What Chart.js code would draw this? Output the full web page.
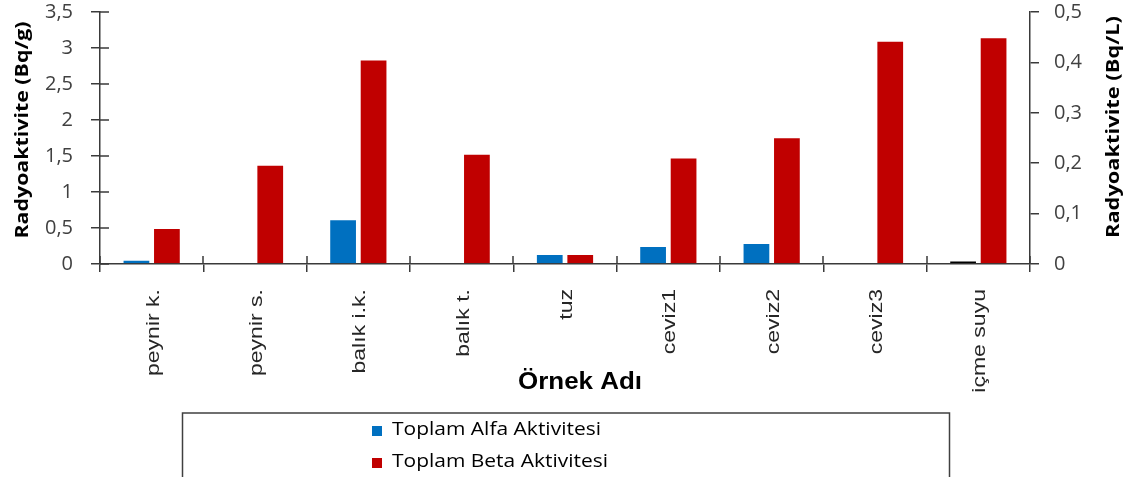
<!DOCTYPE html>
<html><head><meta charset="utf-8">
<script src="https://cdn.jsdelivr.net/npm/chart.js@4"></script>
<style>html,body{margin:0;padding:0;background:#fff;overflow:hidden}canvas{display:block}</style>
</head><body>
<canvas id="c" width="1136" height="477"></canvas>
<script>
const categories = ['peynir k.', 'peynir s.', 'balık i.k.', 'balık t.', 'tuz', 'ceviz1', 'ceviz2', 'ceviz3', 'içme suyu'];
const alfaBqg = [0.06, 0, 0.62, 0, 0.14, 0.25, 0.29, 0, null];
const betaBqg = [0.50, 1.38, 2.84, 1.53, 0.14, 1.48, 1.76, 3.10, null];
const alfaBqL = [null, null, null, null, null, null, null, null, 0.007];
const betaBqL = [null, null, null, null, null, null, null, null, 0.45];
const leftTicks = [0, 0.5, 1, 1.5, 2, 2.5, 3, 3.5];
const rightTicks = [0, 0.1, 0.2, 0.3, 0.4, 0.5];
const seriesNames = ['Toplam Alfa Aktivitesi', 'Toplam Beta Aktivitesi'];
const leftTitle = 'Radyoaktivite (Bq/g)';
const rightTitle = 'Radyoaktivite (Bq/L)';
const xTitle = 'Örnek Adı';

const BLUE = '#0070C0', RED = '#C00000', BLACK = '#000000';
const AXIS = '#3a3a3a';
const fmt = v => String(v).replace('.', ',');

function drawText(ctx, text, cx, cy, angle, font, opts) {
  ctx.save();
  ctx.font = font;
  const w = ctx.measureText(text).width;
  const sx = opts.len ? opts.len / w : (opts.sx || 1);
  ctx.translate(cx, cy);
  ctx.rotate(angle);
  ctx.scale(sx, 1);
  ctx.fillStyle = opts.color || '#000';
  ctx.textAlign = opts.align || 'center';
  ctx.textBaseline = 'middle';
  ctx.fillText(text, 0, 0);
  ctx.restore();
}

const decor = {
  id: 'decor',
  afterDraw(chart) {
    const ctx = chart.ctx;
    const x = chart.scales.x, y = chart.scales.y;
    ctx.save();
    ctx.strokeStyle = AXIS;
    ctx.lineWidth = 1.5;
    ctx.beginPath();
    for (let i = 0; i <= categories.length; i++) {
      const px = Math.round(x.getPixelForValue(i - 0.5));
      ctx.moveTo(px, x.top); ctx.lineTo(px, x.top - 8);
    }
    y.ticks.forEach(t => {
      const py = Math.round(y.getPixelForValue(t.value));
      ctx.moveTo(y.right, py); ctx.lineTo(y.right + 9, py);
    });
    ctx.stroke();
    ctx.restore();

    categories.forEach((lab, i) => {
      drawText(ctx, lab, x.getPixelForValue(i) + 2, x.top + 25, -Math.PI / 2,
        '18px "Liberation Sans", Arial, sans-serif', { sx: 1.28, align: 'right', color: '#262626' });
    });
    drawText(ctx, leftTitle, 23, 130, -Math.PI / 2, 'bold 17px "Open Sans", sans-serif', { len: 217 });
    drawText(ctx, rightTitle, 1114, 127, -Math.PI / 2, 'bold 17px "Open Sans", sans-serif', { len: 222 });
    drawText(ctx, xTitle, 580, 382, 0, 'bold 24px "Liberation Sans", Arial, sans-serif', { len: 124 });

    ctx.save();
    ctx.strokeStyle = '#404040';
    ctx.lineWidth = 1.5;
    ctx.strokeRect(182.5, 413, 767, 120);
    const ds = chart.data.datasets;
    const items = [
      { y: 431, color: ds[0].backgroundColor, text: ds[0].label, len: 209 },
      { y: 463, color: ds[1].backgroundColor, text: ds[1].label, len: 216 }
    ];
    items.forEach(it => {
      ctx.fillStyle = it.color;
      ctx.fillRect(372, it.y - 5, 10, 10);
      drawText(ctx, it.text, 392, it.y - 1, 0, '19px "Open Sans", sans-serif', { len: it.len, align: 'left', color: '#000' });
    });
    ctx.restore();
  }
};

const noPad = s => { s.paddingTop = 0; s.paddingBottom = 0; };
const barBorder = 'rgba(255,255,255,0.3)';
new Chart(document.getElementById('c'), {
  type: 'bar',
  data: {
    labels: categories,
    datasets: [
      { label: seriesNames[0], data: alfaBqg, yAxisID: 'y', backgroundColor: BLUE, borderColor: barBorder, borderWidth: 1 },
      { label: seriesNames[1], data: betaBqg, yAxisID: 'y', backgroundColor: RED, borderColor: barBorder, borderWidth: 1 },
      { label: seriesNames[0] + ' (içme suyu)', data: alfaBqL, yAxisID: 'y2', backgroundColor: BLACK, borderColor: barBorder, borderWidth: 1 },
      { label: seriesNames[1] + ' (içme suyu)', data: betaBqL, yAxisID: 'y2', backgroundColor: RED, borderColor: barBorder, borderWidth: 1 }
    ]
  },
  options: {
    responsive: false,
    animation: false,
    devicePixelRatio: 1,
    skipNull: true,
    datasets: { bar: { categoryPercentage: 0.59, barPercentage: 0.91, skipNull: true } },
    layout: { padding: { top: 12, left: 0, right: 0, bottom: 0 } },
    plugins: { legend: { display: false }, tooltip: { enabled: false } },
    scales: {
      x: {
        offset: true,
        grid: { display: true, drawOnChartArea: false, drawTicks: true, tickLength: 8, color: AXIS, lineWidth: 1.5, offset: true },
        border: { display: true, color: AXIS, width: 1.5 },
        ticks: { display: false },
        afterFit(s) { s.height = 213; s.paddingLeft = 0; s.paddingRight = 0; }
      },
      y: {
        position: 'left', min: 0, max: 3.5,
        afterBuildTicks(s) { s.ticks = leftTicks.map(v => ({ value: v })); },
        grid: { drawOnChartArea: false, tickLength: 9, color: AXIS, lineWidth: 1.5 },
        border: { display: true, color: AXIS, width: 1.5 },
        ticks: { padding: 18, color: '#404040', font: { family: '"Open Sans", sans-serif', size: 20 }, callback: v => fmt(v) },
        afterFit(s) { s.width = 100; noPad(s); }
      },
      y2: {
        position: 'right', min: 0, max: 0.5,
        afterBuildTicks(s) { s.ticks = rightTicks.map(v => ({ value: v })); },
        grid: { drawOnChartArea: false, tickLength: 9, color: AXIS, lineWidth: 1.5 },
        border: { display: true, color: AXIS, width: 1.5 },
        ticks: { padding: 15, color: '#404040', font: { family: '"Open Sans", sans-serif', size: 20 }, callback: v => fmt(v) },
        afterFit(s) { s.width = 106; noPad(s); }
      }
    }
  },
  plugins: [decor]
});
</script>
</body></html>
